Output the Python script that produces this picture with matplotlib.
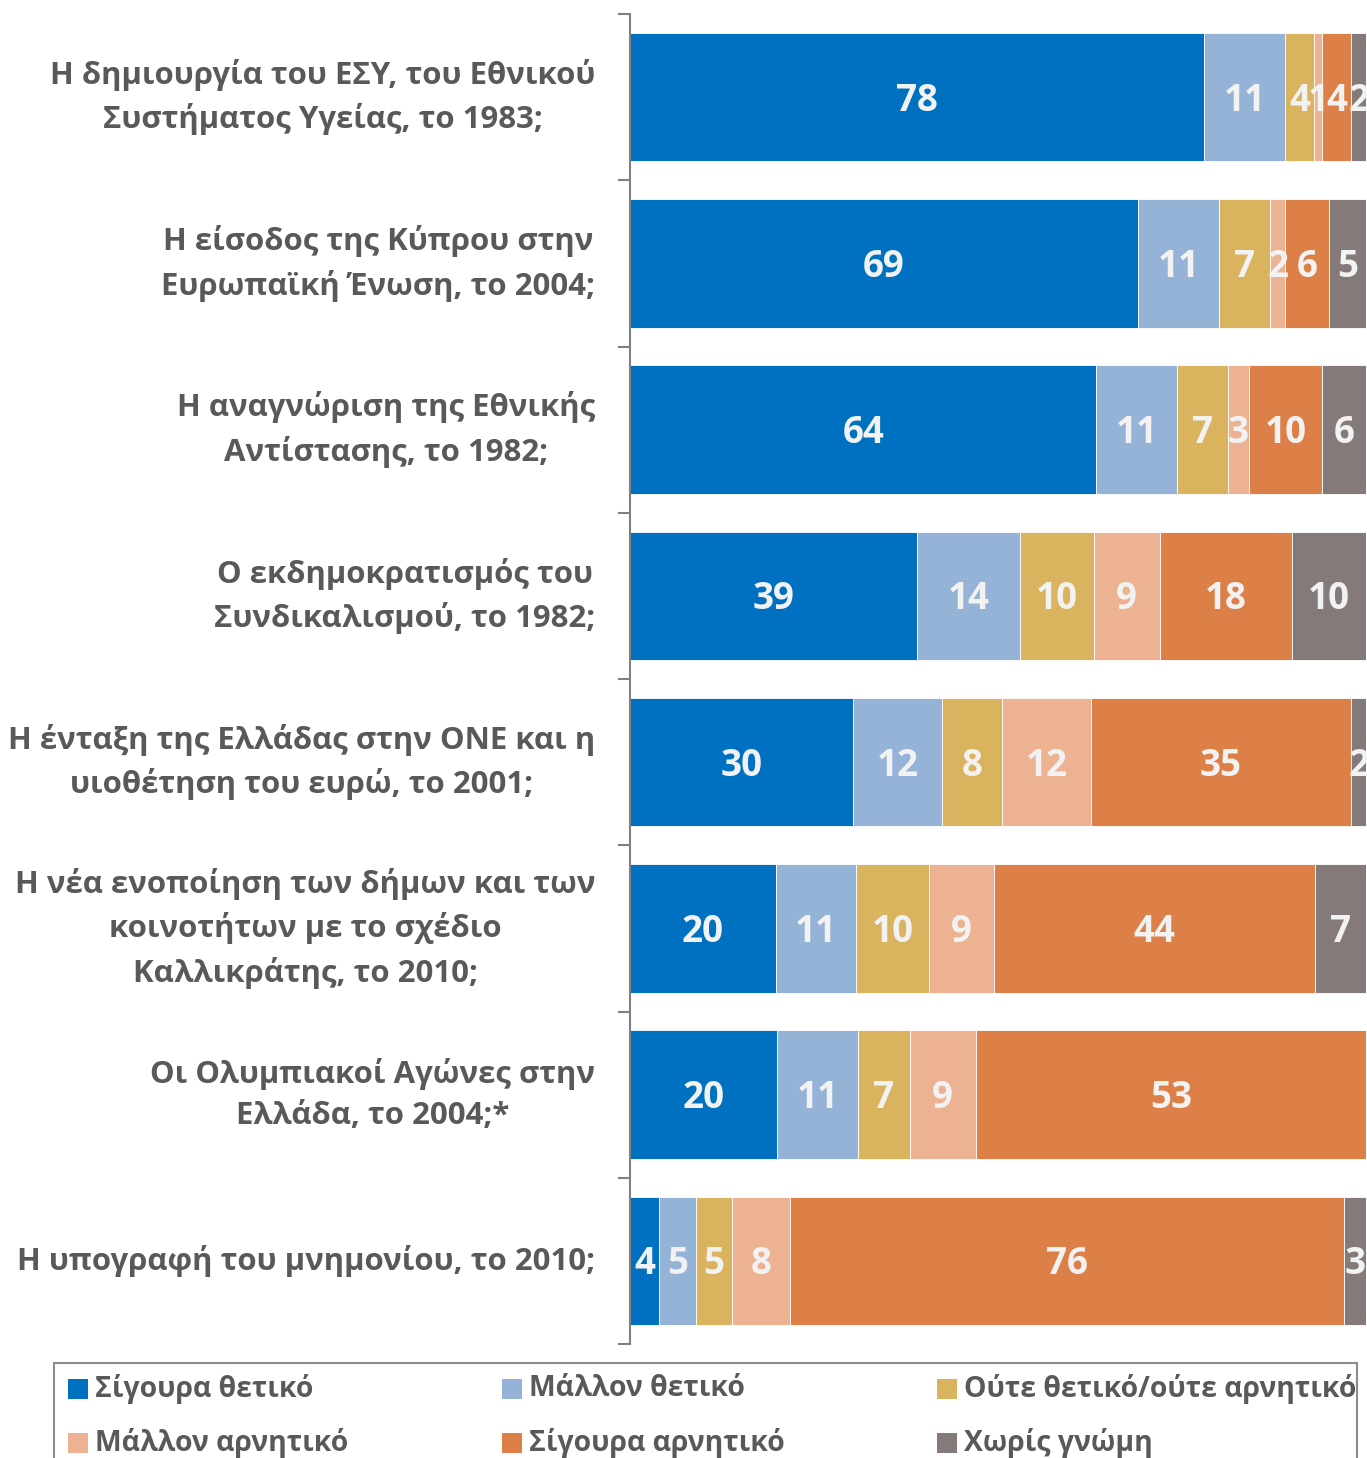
import matplotlib
matplotlib.use('Agg')
import matplotlib.pyplot as plt
import numpy as np
from matplotlib.patches import Rectangle

categories = [
    'Η δημιουργία του ΕΣΥ, του Εθνικού\nΣυστήματος Υγείας, το 1983;',
    'Η είσοδος της Κύπρου στην\nΕυρωπαϊκή Ένωση, το 2004;',
    'Η αναγνώριση της Εθνικής\nΑντίστασης, το 1982;',
    'Ο εκδημοκρατισμός του\nΣυνδικαλισμού, το 1982;',
    'Η ένταξη της Ελλάδας στην ΟΝΕ και η\nυιοθέτηση του ευρώ, το 2001;',
    'Η νέα ενοποίηση των δήμων και των\nκοινοτήτων με το σχέδιο\nΚαλλικράτης, το 2010;',
    'Οι Ολυμπιακοί Αγώνες στην\nΕλλάδα, το 2004;*',
    'Η υπογραφή του μνημονίου, το 2010;',
]
series = ['Σίγουρα θετικό', 'Μάλλον θετικό', 'Ούτε θετικό/ούτε αρνητικό',
          'Μάλλον αρνητικό', 'Σίγουρα αρνητικό', 'Χωρίς γνώμη']
sure_pos = [78, 69, 64, 39, 30, 20, 20, 4]
rather_pos = [11, 11, 11, 14, 12, 11, 11, 5]
neutral = [4, 7, 7, 10, 8, 10, 7, 5]
rather_neg = [1, 2, 3, 9, 12, 9, 9, 8]
sure_neg = [4, 6, 10, 18, 35, 44, 53, 76]
no_opinion = [2, 5, 6, 10, 2, 7, 0, 3]
colors = ['#0070C0', '#95B3D7', '#D9B35E', '#EDB291', '#DD8048', '#847A79']

values = np.array([sure_pos, rather_pos, neutral, rather_neg, sure_neg, no_opinion], dtype=float)
totals = values.sum(axis=0)
pct = values / totals * 100

FONT = 'Open Sans'
W, H = 1367, 1458
fig = plt.figure(figsize=(W / 100, H / 100), dpi=100)
ax = fig.add_axes([630 / W, 1 - 1344 / H, 736 / W, 1330 / H])

y = np.arange(len(categories))
left = np.zeros(len(categories))
for i, name in enumerate(series):
    cont = ax.barh(y, pct[i], left=left, height=0.773, color=colors[i],
                   edgecolor='white', linewidth=0.6, label=name)
    labels = [f'{int(v)}' if v > 0 else '' for v in values[i]]
    texts = ax.bar_label(cont, labels=labels, label_type='center', color='#F2F2F2',
                         fontsize=26.5, fontweight='bold', family=FONT, clip_on=False)
    for t in texts:
        t.xyann = (0, -2.5)
    left += pct[i]

ax.set_xlim(0, 100)
ax.set_ylim(len(categories) - 0.5, -0.5)
ax.set_yticks(y, labels=categories)
ax.tick_params(axis='y', which='major', length=0, pad=25)
ax.set_yticks(np.arange(-0.5, len(categories)), minor=True)
ax.tick_params(axis='y', which='minor', length=9, width=1.5, color='#808080')
for lab in ax.get_yticklabels():
    lab.set_multialignment('center')
    lab.set_verticalalignment('center')
    lab.set_linespacing(1.5)
    lab.set_fontfamily(FONT)
    lab.set_fontweight('bold')
    lab.set_fontsize(22.4)
    lab.set_color('#595959')
ax.xaxis.set_visible(False)
for s in ['top', 'right', 'bottom']:
    ax.spines[s].set_visible(False)
ax.spines['left'].set_color('#808080')
ax.spines['left'].set_linewidth(1.5)

# legend box
fig.patches.append(Rectangle((54 / W, 1 - 1475 / H), (1357 - 54) / W, (1475 - 1362.7) / H,
                             transform=fig.transFigure, fill=False, edgecolor='#8C8C8C',
                             linewidth=1.5, clip_on=False))
col_x = [68, 502, 937]
row_y = [1379, 1433]
for i, name in enumerate(series):
    cx = col_x[i % 3]
    ry = row_y[i // 3]
    fig.patches.append(Rectangle((cx / W, 1 - (ry + 20) / H), 20 / W, 20 / H,
                                 transform=fig.transFigure, facecolor=colors[i],
                                 edgecolor='none'))
    fig.text((cx + 27) / W, 1 - (ry + 10) / H, name, ha='left', va='center',
             fontsize=20.4, fontweight='bold', family=FONT, color='#595959')

fig.savefig('out.png', dpi=100, facecolor='white')
